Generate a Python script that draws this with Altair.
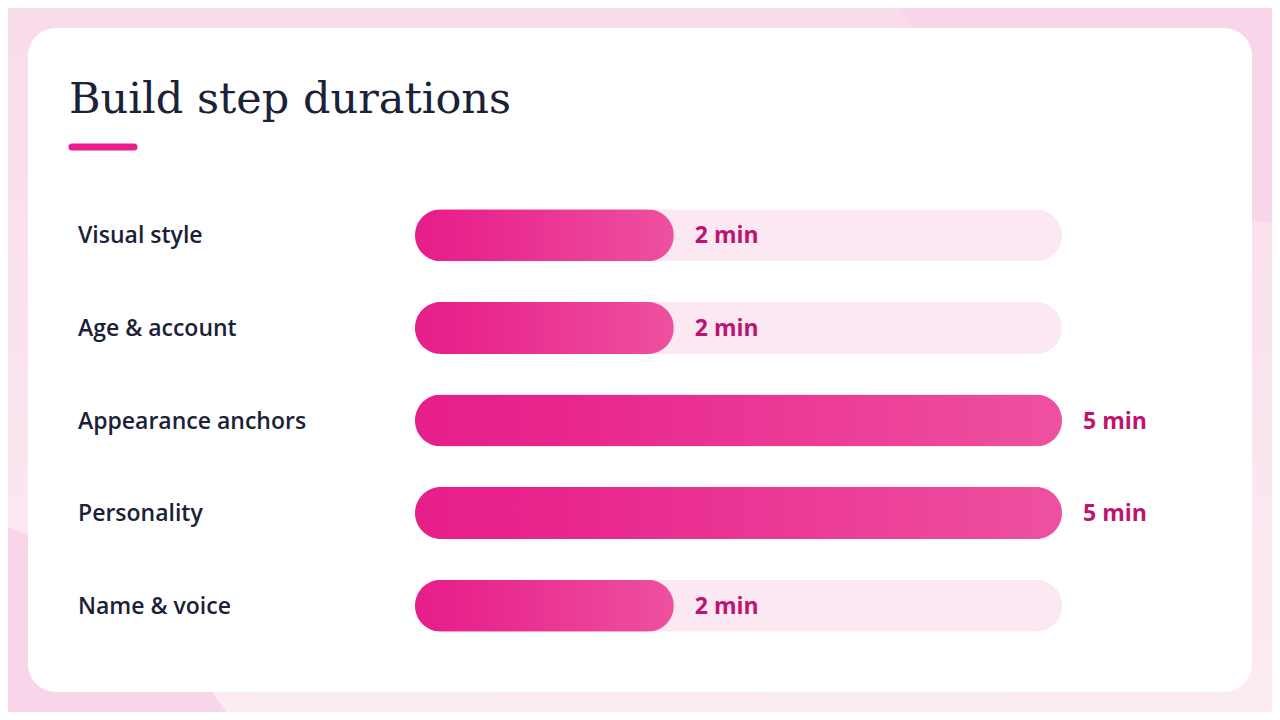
import altair as alt
import pandas as pd

# ---- data ----
steps = ["Visual style", "Age & account", "Appearance anchors", "Personality", "Name & voice"]
minutes = [2, 2, 5, 5, 2]
value_labels = ["2 min", "2 min", "5 min", "5 min", "2 min"]
scale_max = 5
title_text = "Build step durations"

df = pd.DataFrame({
    "step": steps,
    "minutes": minutes,
    "track": [scale_max] * len(steps),
    "label": value_labels,
})
one = pd.DataFrame({"k": [0]})

W, H = 1264, 704

xs = alt.Scale(domain=[0, scale_max], range=[407, 1054], nice=False, zero=True)
ys = alt.Scale(domain=steps, range=[181, 644], paddingInner=0, paddingOuter=0)

# ---- background decorations ----
bg = alt.Chart(one).mark_rect(
    color=alt.Gradient(
        gradient="linear",
        stops=[alt.GradientStop(color="#f9dcea", offset=0),
               alt.GradientStop(color="#fbebf3", offset=1)],
        x1=0, x2=0, y1=0, y2=1,
    )
).encode(x=alt.value(0), x2=alt.value(W), y=alt.value(0), y2=alt.value(H))

blob_tr = alt.Chart(one).mark_arc(
    radius=480, theta=0, theta2=6.2832, color="#f8d5e8", clip=True
).encode(x=alt.value(1292), y=alt.value(-265))

blob_bl = alt.Chart(one).mark_arc(
    radius=520, theta=0, theta2=6.2832, color="#f8d5e8", clip=True
).encode(x=alt.value(-215), y=alt.value(992))

card = alt.Chart(one).mark_rect(
    color="white", cornerRadius=28
).encode(x=alt.value(20), x2=alt.value(1244), y=alt.value(20), y2=alt.value(684))

title = alt.Chart(one).mark_text(
    text=title_text, font="DejaVu Serif", fontSize=43, color="#1b2238",
    align="left", baseline="alphabetic"
).encode(x=alt.value(61), y=alt.value(105))

accent = alt.Chart(one).mark_rule(
    color="#e91e8c", strokeWidth=7, strokeCap="round"
).encode(x=alt.value(64), x2=alt.value(126), y=alt.value(139))

# ---- bars ----
track = alt.Chart(df).mark_bar(
    height=52, cornerRadius=26, color="#fce8f3"
).encode(
    x=alt.X("track:Q", scale=xs, axis=None),
    y=alt.Y("step:N", scale=ys, axis=None, sort=steps),
)

bars = alt.Chart(df).mark_bar(
    height=52, cornerRadius=26,
    color=alt.Gradient(
        gradient="linear",
        stops=[alt.GradientStop(color="#e61e89", offset=0),
               alt.GradientStop(color="#e8248d", offset=0.2),
               alt.GradientStop(color="#ee519f", offset=1)],
        x1=0, x2=1, y1=0, y2=0,
    ),
).encode(
    x=alt.X("minutes:Q", scale=xs, axis=None),
    y=alt.Y("step:N", scale=ys, axis=None, sort=steps),
)

names = alt.Chart(df).mark_text(
    font="Open Sans", fontSize=23, fontWeight=600, color="#1b2238",
    align="left", baseline="middle", dy=1
).encode(
    x=alt.value(70),
    y=alt.Y("step:N", scale=ys, axis=None, sort=steps),
    text="step:N",
)

vals = alt.Chart(df).mark_text(
    font="Open Sans", fontSize=23, fontWeight=700, color="#be1470",
    align="left", baseline="middle", dx=21, dy=1
).encode(
    x=alt.X("minutes:Q", scale=xs, axis=None),
    y=alt.Y("step:N", scale=ys, axis=None, sort=steps),
    text="label:N",
)

chart = alt.layer(
    bg, blob_tr, blob_bl, card, title, accent, track, bars, names, vals
).properties(
    width=W, height=H,
    autosize=alt.AutoSizeParams(type="none"),
    padding=0,
    background="#fae3ef",
).configure_view(stroke=None)

chart.save("out.html", embed_options={"renderer": "svg", "actions": False})
